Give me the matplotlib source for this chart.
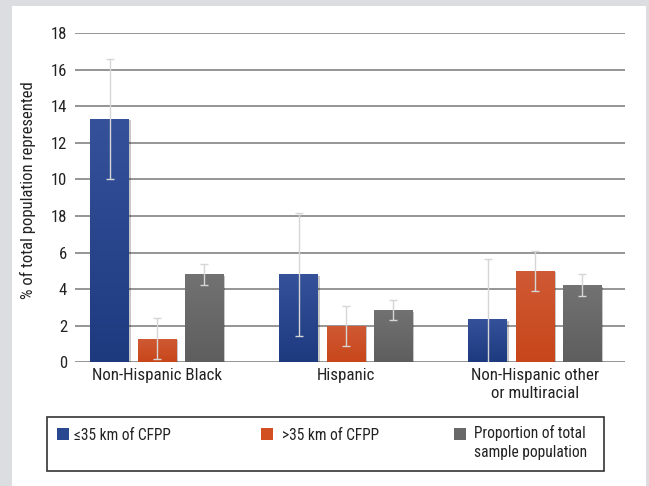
import matplotlib
matplotlib.use('Agg')
from matplotlib import pyplot as plt
from matplotlib.patches import Rectangle
import matplotlib.patheffects as pe
import numpy as np

plt.rcParams['font.family'] = ['Roboto Condensed', 'Liberation Sans Narrow', 'DejaVu Sans']

categories = ['Non-Hispanic Black', 'Hispanic', 'Non-Hispanic other\nor multiracial']
near = [13.3, 4.8, 2.35]
near_err = [3.3, 3.35, 3.3]
far = [1.3, 2.0, 5.0]
far_err = [1.13, 1.1, 1.1]
total = [4.8, 2.85, 4.2]
total_err = [0.6, 0.55, 0.6]
series_names = ['\u226435 km of CFPP', '>35 km of CFPP', 'Proportion of total\nsample population']
y_ticks = [0, 2, 4, 6, 8, 10, 12, 14, 16, 18]
y_tick_labels = ['0', '2', '4', '6', '18', '10', '12', '14', '16', '18']

# top / bottom colours of the bar gradients
grads = [('#34519a', '#1e3a7f'), ('#cf5a35', '#c8461a'), ('#727272', '#5e5e5e')]
solid = ['#2a4890', '#d24f22', '#686868']

W, H = 649, 486

def fx(x):
    return x / W

def fy(y):
    return 1 - y / H

fig = plt.figure(figsize=(W / 100, H / 100), dpi=100)
fig.patch.set_facecolor('#dcdde0')
fig.patches.append(Rectangle((fx(12.3), 0), fx(645.7) - fx(12.3), fy(6), transform=fig.transFigure,
                             facecolor='white', edgecolor='none', zorder=-10))

ax = fig.add_axes([fx(75), fy(362.3), fx(625) - fx(75), fy(33) - fy(362.3)])
ax.set_facecolor('none')

x = np.arange(len(categories))
step = 0.25
width = 0.205
data = [(near, near_err), (far, far_err), (total, total_err)]

for i, (vals, errs) in enumerate(data):
    pos = x + (i - 1) * step
    bars = ax.bar(pos, vals, width, color=solid[i], zorder=3)
    for b in bars:
        b.set_path_effects([pe.SimplePatchShadow(offset=(1, -1), shadow_rgbFace='k', alpha=0.22), pe.Normal()])
        top, bot = matplotlib.colors.to_rgb(grads[i][0]), matplotlib.colors.to_rgb(grads[i][1])
        t = np.linspace(0, 1, 64)[:, None]
        img = (1 - t) * np.array(top) + t * np.array(bot)
        im = ax.imshow(img[:, None, :], extent=(b.get_x(), b.get_x() + b.get_width(), 0, b.get_height()),
                       aspect='auto', zorder=3.5, interpolation='bilinear')
        im.set_clip_path(b)
    ax.errorbar(pos, vals, yerr=errs, fmt='none', ecolor='#d6d6d6', elinewidth=1, capsize=3,
                capthick=1, zorder=5)

ax.set_xlim(-0.434, 2.476)
ax.set_ylim(0, 18)
ax.set_yticks(y_ticks)
ax.set_yticklabels(y_tick_labels)
ax.set_xticks(x)
ax.set_xticklabels(categories, linespacing=1.25)
ax.tick_params(axis='y', length=0, pad=5.8, labelsize=12, labelcolor='#222222')
ax.tick_params(axis='x', length=0, pad=4, labelsize=12.2, labelcolor='#222222')
ax.yaxis.grid(True, color='#8c8c8c', linewidth=1.3, zorder=1)
ax.set_axisbelow(True)
for s in ax.spines.values():
    s.set_visible(False)
ax.set_ylabel('% of total population represented', fontsize=12, color='#222222')
ax.yaxis.set_label_coords((36.5 - 75) / 550, (362.3 - 190) / 329.3)

# legend box
fig.patches.append(Rectangle((fx(46.7), fy(470.7)), fx(604) - fx(46.7), fy(417.3) - fy(470.7),
                             transform=fig.transFigure, facecolor='white', edgecolor='#333333',
                             linewidth=1.2, zorder=2))
sq_x = [57, 261, 454]
txt_x = [74, 282, 474]
for i in range(3):
    fig.patches.append(Rectangle((fx(sq_x[i]), fy(439.5)), 12 / W, 12 / H, transform=fig.transFigure,
                                 facecolor=solid[i], edgecolor='none', zorder=3))
    if '\n' in series_names[i]:
        fig.text(fx(txt_x[i]), fy(425), series_names[i], fontsize=11.2, color='#222222',
                 va='top', ha='left', linespacing=1.35, zorder=4)
    else:
        fig.text(fx(txt_x[i]), fy(434), series_names[i], fontsize=11.2, color='#222222',
                 va='center_baseline', ha='left', zorder=4)

fig.savefig('out.png', dpi=100, facecolor=fig.get_facecolor())
